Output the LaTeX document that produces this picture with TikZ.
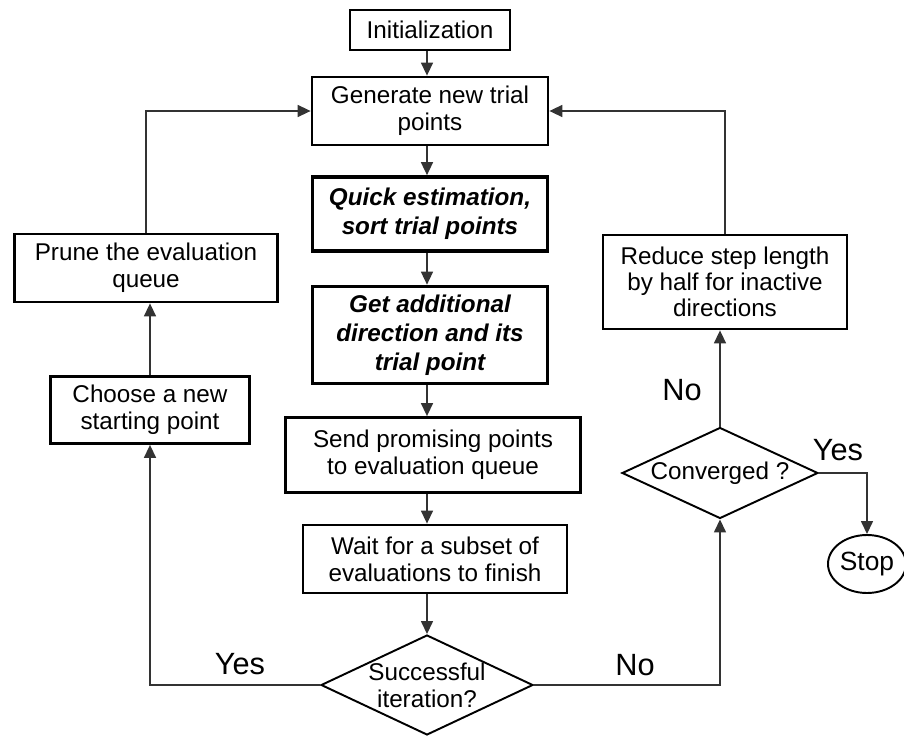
\documentclass[tikz,border=0pt]{standalone}
\usepackage{fontspec}
\setmainfont{Liberation Sans}
\usetikzlibrary{shapes.geometric,arrows.meta}

\begin{document}
\begin{tikzpicture}[x=0.02cm,y=-0.02cm,>={Triangle[length=2.6mm,width=2.4mm]},
  font=\fontsize{13.8}{15.5}\selectfont,
  box/.style={draw,line width=1.6pt,align=center,inner sep=0pt},
  boldbox/.style={box,line width=2.1pt,font=\fontsize{13.8}{16.5}\selectfont\bfseries\itshape},
  decide/.style={draw,diamond,line width=1.1pt,inner sep=0pt},
  flow/.style={->,line width=0.85pt,draw=black!80},
  answer/.style={font=\fontsize{17.5}{20}\selectfont}]
\useasboundingbox (0,0) rectangle (904,737);
\node[box,minimum width=3.2cm,minimum height=0.8cm] (init) at (430,30) {Initialization};
\node[box,minimum width=4.72cm,minimum height=1.36cm] (gen) at (430,111) {Generate new trial\\points};
\node[boldbox,minimum width=4.7cm,minimum height=1.48cm] (quick) at (430,214) {Quick estimation,\\sort trial points};
\node[boldbox,minimum width=4.7cm,minimum height=1.94cm] (getdir) at (430,335) {Get additional\\direction and its\\trial point};
\node[box,minimum width=5.9cm,minimum height=1.5cm] (send) at (433,455) {Send promising points\\to evaluation queue};
\node[box,minimum width=5.28cm,minimum height=1.36cm] (wait) at (435,559) {Wait for a subset of\\evaluations to finish};
\node[decide,minimum width=4.24cm,minimum height=2cm,label={[align=center]center:Successful\\iteration?}] (succ) at (427,685) {};
\node[box,minimum width=3.98cm,minimum height=1.34cm] (choose) at (150,410) {Choose a new\\starting point};
\node[box,minimum width=5.26cm,minimum height=1.36cm] (prune) at (146,268) {Prune the evaluation\\queue};
\node[box,minimum width=4.88cm,minimum height=1.88cm,font=\fontsize{13.8}{14.8}\selectfont] (reduce) at (725,282) {Reduce step length\\by half for inactive\\directions};
\node[decide,minimum width=3.92cm,minimum height=1.82cm,label={center:Converged ?}] (conv) at (720,473) {};
\node[draw,ellipse,line width=1.1pt,inner sep=0pt,minimum width=1.56cm,minimum height=1.16cm,font=\fontsize{15}{17}\selectfont] (stop) at (867,564) {Stop};

\node[answer] (yesl) at (240,664) {Yes};
\node[answer] (nol) at (635,665) {No};
\node[answer] (nou) at (682,390) {No};
\node[answer] (yesr) at (838,450) {Yes};

\foreach \a/\b in {init/gen,gen/quick,quick/getdir,getdir/send,send/wait,wait/succ}
  \draw[flow] (\a.south -| succ) -- (\b.north -| succ);
\draw[flow] (succ.west) -| (choose.south);
\draw[flow] (choose.north) -- (choose.north |- prune.south);
\draw[flow] (prune.north) |- (gen.west);
\draw[flow] (succ.east) -| (conv.south);
\draw[flow] (conv.north) -- (conv.north |- reduce.south);
\draw[flow] (reduce.north) |- (gen.east);
\draw[flow] (conv.east) -| (stop.north);
\end{tikzpicture}
\end{document}
